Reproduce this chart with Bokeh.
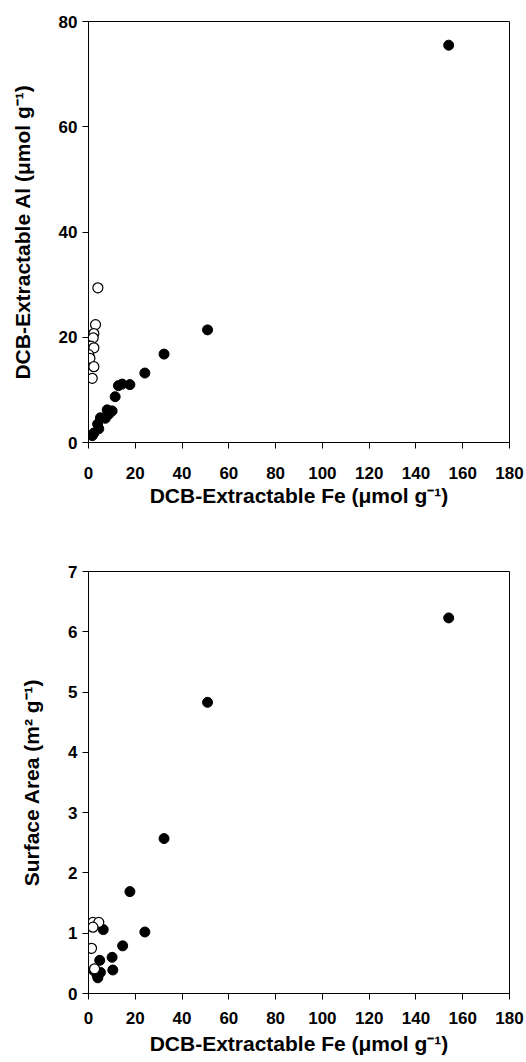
from bokeh.plotting import figure
from bokeh.models import Range1d, FixedTicker
from bokeh.layouts import column
from bokeh.embed import file_html
from bokeh.resources import INLINE

# Top panel: DCB-extractable Al vs Fe
al_filled_fe = [154, 50.9, 32.3, 24.1, 17.7, 14.4, 12.8, 11.4, 10.1, 8.7, 8.0, 7.2, 5.1, 4.4, 3.9, 2.3, 1.6]
al_filled_al = [75.5, 21.4, 16.8, 13.2, 11.0, 11.1, 10.8, 8.7, 6.0, 5.4, 6.2, 4.6, 4.7, 2.6, 3.5, 1.8, 1.3]
al_open_fe = [4.0, 3.0, 2.3, 2.0, 1.1, 2.3, 0.1, 0.6, 2.3, 1.6]
al_open_al = [29.4, 22.4, 20.7, 19.9, 18.3, 18.0, 16.7, 16.0, 14.4, 12.2]

# Bottom panel: surface area vs Fe
sa_filled_fe = [154, 50.9, 32.3, 24.1, 17.7, 14.6, 10.1, 10.4, 6.3, 4.8, 5.1, 3.7, 2.3, 4.0]
sa_filled_sa = [6.23, 4.83, 2.57, 1.02, 1.69, 0.79, 0.60, 0.39, 1.06, 0.55, 0.35, 0.30, 0.38, 0.26]
sa_open_fe = [1.9, 4.4, 1.9, 1.3, 2.6]
sa_open_sa = [1.18, 1.18, 1.10, 0.75, 0.41]

x_ticks = [0, 20, 40, 60, 80, 100, 120, 140, 160, 180]
al_ticks = [0, 20, 40, 60, 80]
sa_ticks = [0, 1, 2, 3, 4, 5, 6, 7]

FONT = "Liberation Sans"
XTITLE = "DCB-Extractable Fe (\u03bcmol g\u207b\u00b9)"


def style(p, yticks, xlabel, ylabel):
    p.xaxis.ticker = FixedTicker(ticks=x_ticks)
    p.yaxis.ticker = FixedTicker(ticks=yticks)
    p.xgrid.visible = False
    p.ygrid.visible = False
    p.outline_line_color = "black"
    p.outline_line_width = 1
    for ax in (p.xaxis[0], p.yaxis[0]):
        ax.axis_line_color = "black"
        ax.axis_line_width = 1
        ax.major_tick_line_color = "black"
        ax.major_tick_in = 0
        ax.major_tick_out = 6
        ax.minor_tick_line_color = None
        ax.major_label_text_font = FONT
        ax.major_label_text_font_style = "bold"
        ax.major_label_text_font_size = "17px"
        ax.major_label_text_color = "black"
        ax.axis_label_text_font = FONT
        ax.axis_label_text_font_style = "bold"
        ax.axis_label_text_font_size = "21px"
        ax.axis_label_text_color = "black"
    p.xaxis.axis_label = xlabel
    p.yaxis.axis_label = ylabel
    p.xaxis.major_label_standoff = 18
    p.xaxis.axis_label_standoff = 2
    p.yaxis.major_label_standoff = 5
    p.yaxis.axis_label_standoff = 22


p1 = figure(output_backend="svg", toolbar_location=None,
            frame_width=421, frame_height=421,
            x_range=Range1d(0, 180), y_range=Range1d(0, 80),
            min_border_left=88, min_border_right=15,
            min_border_top=21, min_border_bottom=88,
            background_fill_color="white", border_fill_color="white")
style(p1, al_ticks, XTITLE, "DCB-Extractable Al (\u03bcmol g\u207b\u00b9)")
p1.scatter(al_filled_fe, al_filled_al, size=10, fill_color="black", line_color="black")
p1.scatter(al_open_fe, al_open_al, size=10, fill_color="white", line_color="black", line_width=1.2)

p2 = figure(output_backend="svg", toolbar_location=None,
            frame_width=421, frame_height=422,
            x_range=Range1d(0, 180), y_range=Range1d(0, 7),
            min_border_left=88, min_border_right=15,
            min_border_top=41, min_border_bottom=64,
            background_fill_color="white", border_fill_color="white")
style(p2, sa_ticks, XTITLE, "Surface Area (m\u00b2 g\u207b\u00b9)")
p2.xaxis.major_label_standoff = 12
p2.xaxis.axis_label_standoff = 5
p2.scatter(sa_filled_fe, sa_filled_sa, size=10, fill_color="black", line_color="black")
p2.scatter(sa_open_fe, sa_open_sa, size=10, fill_color="white", line_color="black", line_width=1.2)

layout = column(p1, p2, spacing=0)
open("out.html", "w").write(file_html(layout, INLINE))
